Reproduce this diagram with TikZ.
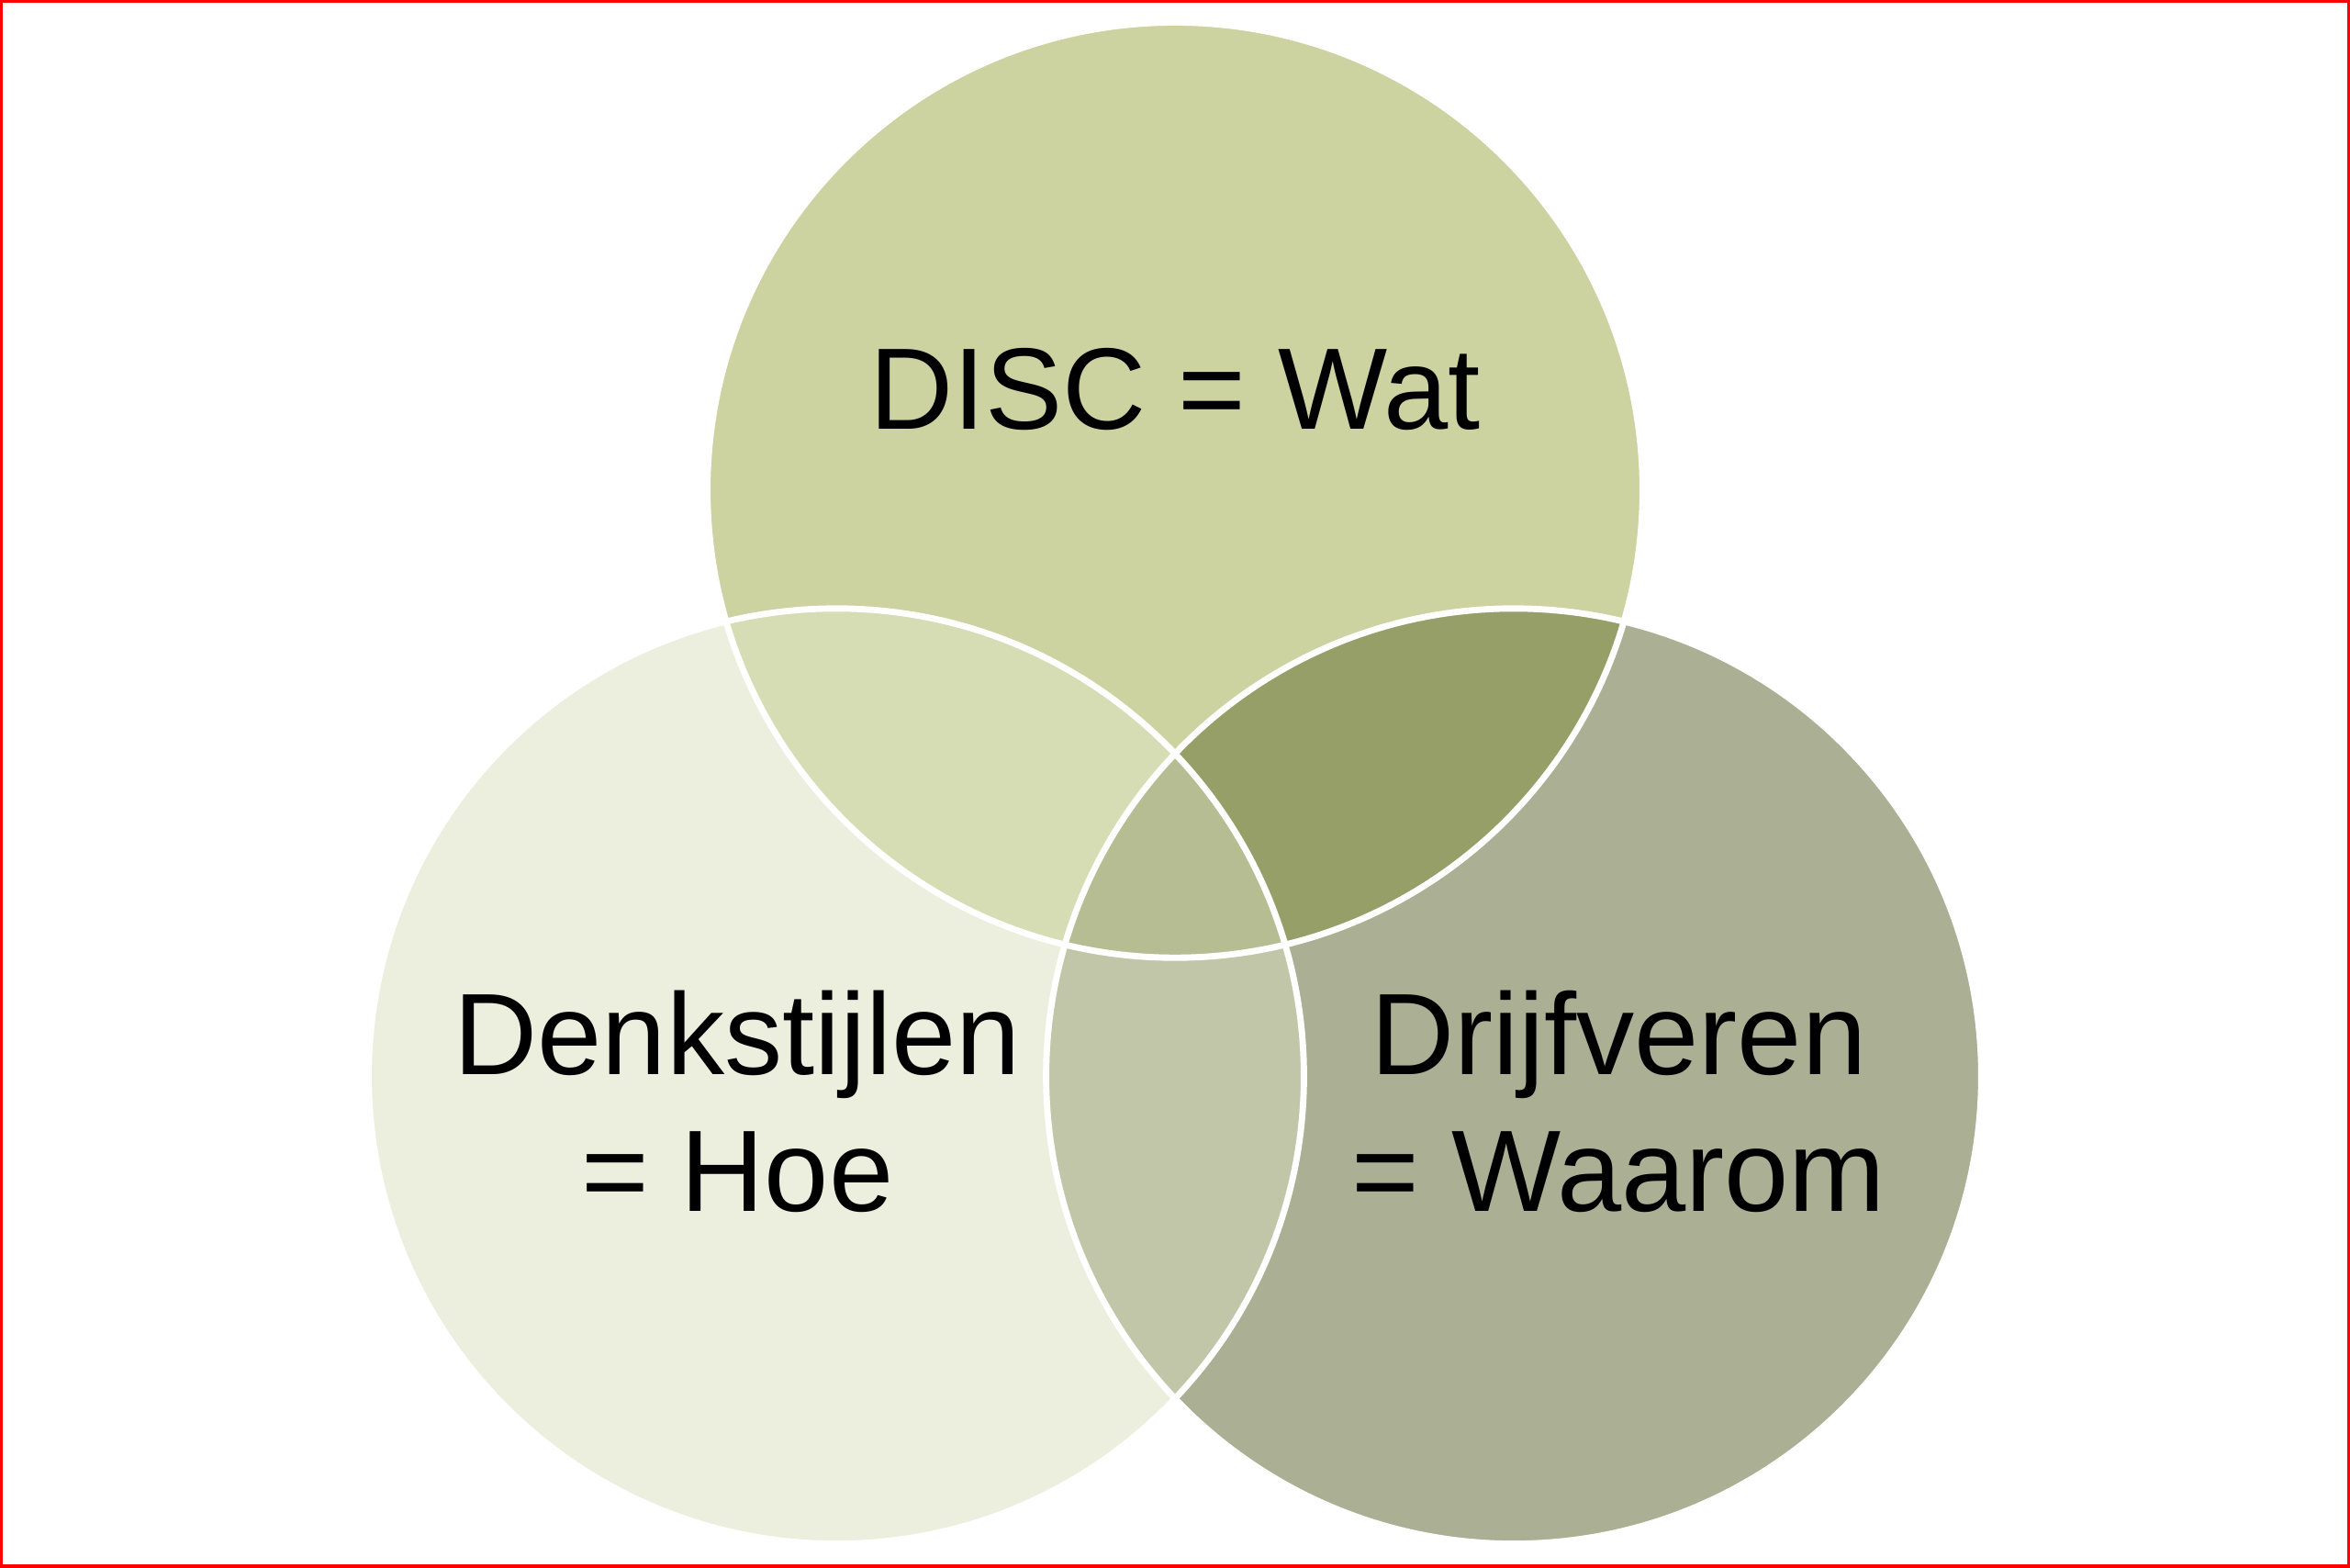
\documentclass[tikz,border=0pt]{standalone}
\usepackage{fontspec}
\setmainfont{Liberation Sans}
\definecolor{discc}{HTML}{CCD2A0}
\definecolor{denkc}{HTML}{ECEEDE}
\definecolor{drijfc}{HTML}{ABB094}
\definecolor{discdenk}{HTML}{D6DCB3}
\definecolor{discdrijf}{HTML}{979F68}
\definecolor{denkdrijf}{HTML}{C1C6A8}
\definecolor{allc}{HTML}{B7BD93}
\begin{document}
\begin{tikzpicture}[
  label/.style={font=\fontsize{22}{26}\selectfont, align=center},
  rim/.style={draw=white, line width=1.2pt}]
\useasboundingbox (0,0) rectangle (15.68,10.46);
\draw[red, line width=0.6pt] (0.01,0.01) rectangle (15.67,10.45);

\coordinate (disc) at (7.84, 7.19);
\coordinate (denk) at (5.58, 3.28);
\coordinate (drijf) at (10.10, 3.28);

% circles
\fill[discc] (disc) circle (3.12);
\fill[denkc] (denk) circle (3.12);
\fill[drijfc] (drijf) circle (3.12);

% overlaps
\begin{scope}
  \clip (disc) circle (3.12);
  \fill[discdenk] (denk) circle (3.12);
  \fill[discdrijf] (drijf) circle (3.12);
\end{scope}
\begin{scope}
  \clip (denk) circle (3.12);
  \fill[denkdrijf] (drijf) circle (3.12);
  \clip (drijf) circle (3.12);
  \fill[allc] (disc) circle (3.12);
\end{scope}

\draw[rim] (disc) circle (3.12);
\draw[rim] (denk) circle (3.12);
\draw[rim] (drijf) circle (3.12);

\node[label] (wat) at (7.84, 7.86) {DISC = Wat};
\node[label] (hoe) at (4.92, 3.11) {Denkstijlen\\= Hoe};
\node[label] (waarom) at (10.80, 3.11) {Drijfveren\\= Waarom};
\end{tikzpicture}
\end{document}
